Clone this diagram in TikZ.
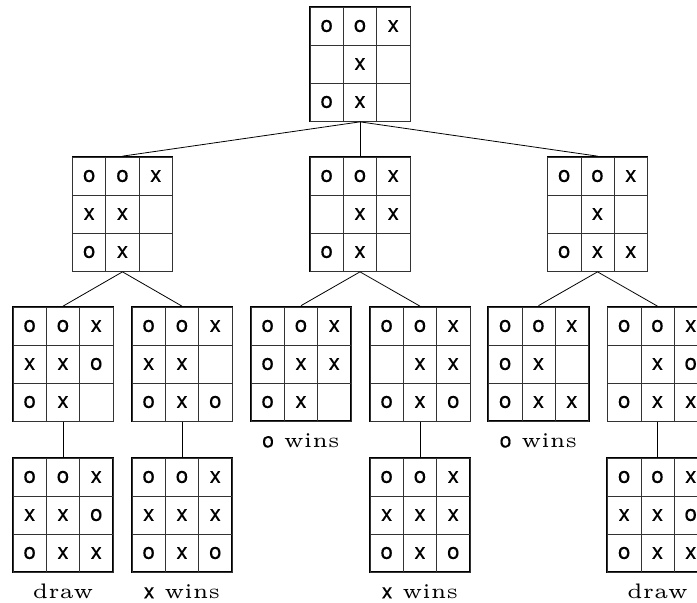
\documentclass[tikz,border=0pt]{standalone}
\usepackage{fontspec}
\newfontfamily\cellfont{TeX Gyre Heros}[FakeBold=0.3]
\newfontfamily\labelfont{lmroman5-regular.otf}
\usetikzlibrary{matrix,positioning}

\begin{document}
\begin{tikzpicture}[
    x=1pt, y=-1pt,
    board/.style={
      matrix of nodes, nodes in empty cells, draw=black, line width=1pt,
      inner sep=0pt, column sep=-0.7pt, row sep=-0.7pt,
      nodes={draw=black!80, line width=0.7pt, anchor=center,
        minimum width=33.3pt, minimum height=38pt, inner sep=0pt,
        font=\cellfont\fontsize{22}{25}\selectfont}
    },
    endboard/.style={board, line width=2pt},
    edge/.style={draw, line width=0.8pt},
    result/.style={below=25pt of #1.south, anchor=base,
      font=\labelfont\fontsize{21}{24}\selectfont}
  ]
    \useasboundingbox (0,0) rectangle (697,603);

    % ── root ──
    \matrix[board] (b0) at (360,64) {o & o & x \\ & x & \\ o & x & \\};

    % ── first move ──
    \matrix[board] (b1) at (122.5,214) {o & o & x \\ x & x & \\ o & x & \\};
    \matrix[board] (b2) at (360,214)   {o & o & x \\ & x & x \\ o & x & \\};
    \matrix[board] (b3) at (597.5,214) {o & o & x \\ & x & \\ o & x & x \\};

    % ── second move ──
    \matrix[board]    (b4) at (63,364)    {o & o & x \\ x & x & o \\ o & x & \\};
    \matrix[board]    (b5) at (182,364)   {o & o & x \\ x & x & \\ o & x & o \\};
    \matrix[endboard] (b6) at (301,364)   {o & o & x \\ o & x & x \\ o & x & \\};
    \matrix[board]    (b7) at (420,364)   {o & o & x \\ & x & x \\ o & x & o \\};
    \matrix[endboard] (b8) at (538.5,364) {o & o & x \\ o & x & \\ o & x & x \\};
    \matrix[board]    (b9) at (657.5,364) {o & o & x \\ & x & o \\ o & x & x \\};

    % ── last move ──
    \matrix[endboard] (b10) at (63,515)    {o & o & x \\ x & x & o \\ o & x & x \\};
    \matrix[endboard] (b11) at (182,515)   {o & o & x \\ x & x & x \\ o & x & o \\};
    \matrix[endboard] (b12) at (420,515)   {o & o & x \\ x & x & x \\ o & x & o \\};
    \matrix[endboard] (b13) at (657.5,515) {o & o & x \\ x & x & o \\ o & x & x \\};

    \foreach \p/\c in {b0/b1, b0/b2, b0/b3, b1/b4, b1/b5, b2/b6, b2/b7,
                       b3/b8, b3/b9, b4/b10, b5/b11, b7/b12, b9/b13}
      \draw[edge] (\p.south) -- (\c.north);

    % ── outcomes ──
    \node[result=b6]  (r6)  {{\cellfont o} wins};
    \node[result=b8]  (r8)  {{\cellfont o} wins};
    \node[result=b10] (r10) {draw};
    \node[result=b11] (r11) {{\cellfont x} wins};
    \node[result=b12] (r12) {{\cellfont x} wins};
    \node[result=b13] (r13) {draw};
  \end{tikzpicture}
\end{document}
